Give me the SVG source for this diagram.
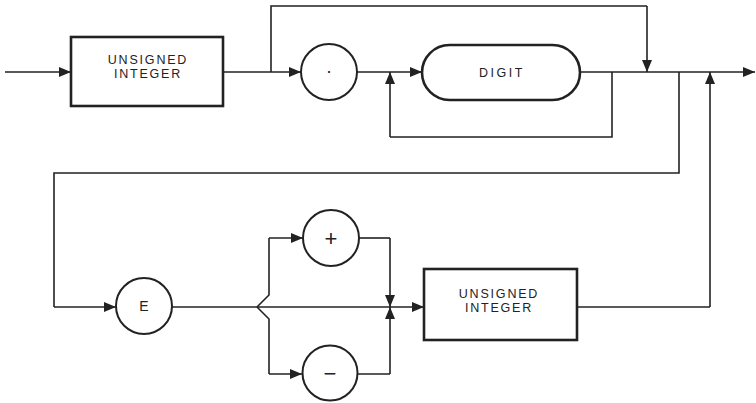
<svg xmlns="http://www.w3.org/2000/svg" width="756" height="403" viewBox="0 0 756 403">
<style>
.ln{fill:none;stroke:#222;stroke-width:1.6;stroke-linejoin:miter}
.arr{marker-end:url(#ah)}
.box{fill:#fff;stroke:#222;stroke-width:2.6}
.cir{fill:#fff;stroke:#222;stroke-width:2}
.t{font-family:"Liberation Sans",Arial,sans-serif;font-size:12.5px;letter-spacing:1.8px;fill:#222;text-anchor:middle}
.s{font-family:"Liberation Sans",Arial,sans-serif;fill:#222;text-anchor:middle}
</style>
<defs>
<marker id="ah" markerUnits="userSpaceOnUse" markerWidth="12" markerHeight="10" refX="12" refY="5" orient="auto">
<path d="M0,0 L12,5 L0,10 z" fill="#222"/>
</marker>
</defs>
<rect width="756" height="403" fill="#fff"/>
<g id="connectors">
<path class="ln arr" d="M5,72 H71"/>
<path class="ln arr" d="M223,72 H301"/>
<path class="ln" d="M271,72 V6 H647"/>
<path class="ln arr" d="M647,6 V72"/>
<path class="ln arr" d="M356,72 H422"/>
<path class="ln" d="M612,72 V137 H390"/>
<path class="ln arr" d="M390,137 V72"/>
<path class="ln arr" d="M580,72 H755"/>
<path class="ln" d="M679,72 V173 H54 V307"/>
<path class="ln arr" d="M54,307 H116"/>
<path class="ln" d="M172,307 H257"/>
<path class="ln arr" d="M257,307 H424"/>
<path class="ln" d="M257,307 L269,295 V238"/>
<path class="ln arr" d="M269,238 H303"/>
<path class="ln" d="M257,307 L269,319 V374"/>
<path class="ln arr" d="M269,374 H302"/>
<path class="ln" d="M359,238 H390"/>
<path class="ln arr" d="M390,238 V307"/>
<path class="ln" d="M357,374 H390"/>
<path class="ln arr" d="M390,374 V307"/>
<path class="ln" d="M577,307 H710"/>
<path class="ln arr" d="M710,307 V72"/>
</g>
<g id="unsigned-integer-1">
<rect class="box" x="71" y="37" width="152" height="69"/>
<text class="t" x="148" y="64">UNSIGNED</text>
<text class="t" x="148" y="78">INTEGER</text>
</g>
<g id="point">
<circle class="cir" cx="329" cy="72" r="28"/>
<text class="s" x="329" y="77" font-size="18">·</text>
</g>
<g id="digit">
<rect class="box" x="422" y="45" width="158" height="55" rx="27.5" ry="27.5"/>
<text class="t" x="502" y="77" style="letter-spacing:2.5px">DIGIT</text>
</g>
<g id="e">
<circle class="cir" cx="144" cy="306" r="28"/>
<text class="s" x="144" y="311" font-size="14">E</text>
</g>
<g id="plus">
<circle class="cir" cx="331" cy="238" r="28"/>
<text class="s" x="331" y="246" font-size="22">+</text>
</g>
<g id="minus">
<circle class="cir" cx="330" cy="373" r="27.5"/>
<text class="s" x="330" y="381" font-size="22">−</text>
</g>
<g id="unsigned-integer-2">
<rect class="box" x="424" y="269" width="153" height="71"/>
<text class="t" x="499" y="298">UNSIGNED</text>
<text class="t" x="499" y="312">INTEGER</text>
</g>
</svg>
